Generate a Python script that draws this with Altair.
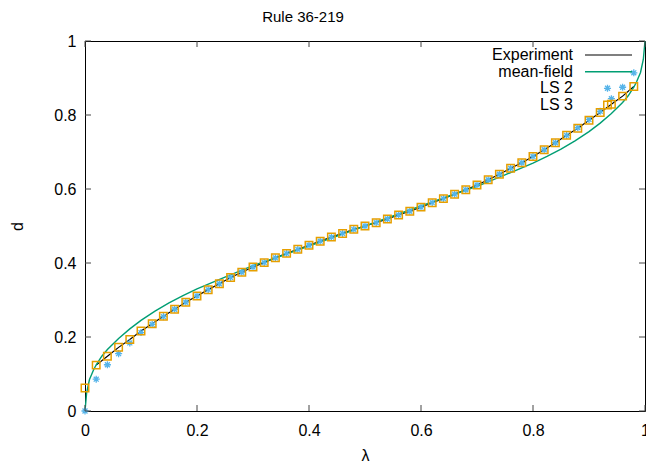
import altair as alt
import pandas as pd

# ---------------- data ----------------
lam = [0.00, 0.02, 0.04, 0.06, 0.08, 0.10, 0.12, 0.14, 0.16, 0.18,
       0.20, 0.22, 0.24, 0.26, 0.28, 0.30, 0.32, 0.34, 0.36, 0.38,
       0.40, 0.42, 0.44, 0.46, 0.48, 0.50, 0.52, 0.54, 0.56, 0.58,
       0.60, 0.62, 0.64, 0.66, 0.68, 0.70, 0.72, 0.74, 0.76, 0.78,
       0.80, 0.82, 0.84, 0.86, 0.88, 0.90, 0.92, 0.94, 0.96, 0.98]

ls3 = [0.062, 0.124, 0.148, 0.172, 0.193, 0.216, 0.236, 0.256, 0.275, 0.294,
       0.311, 0.328, 0.344, 0.361, 0.375, 0.389, 0.401, 0.414, 0.426, 0.437,
       0.448, 0.459, 0.470, 0.480, 0.491, 0.500, 0.509, 0.519, 0.530, 0.540,
       0.551, 0.563, 0.574, 0.586, 0.598, 0.611, 0.625, 0.640, 0.656, 0.671,
       0.688, 0.706, 0.725, 0.745, 0.764, 0.786, 0.807, 0.829, 0.851, 0.877]

ls2 = [0.000, 0.086, 0.125, 0.155, 0.184, 0.212, 0.234, 0.255, 0.275, 0.294,
       0.311, 0.328, 0.344, 0.361, 0.375, 0.389, 0.401, 0.414, 0.426, 0.437,
       0.448, 0.459, 0.470, 0.480, 0.491, 0.500, 0.509, 0.519, 0.530, 0.540,
       0.551, 0.563, 0.574, 0.586, 0.598, 0.611, 0.625, 0.640, 0.656, 0.671,
       0.688, 0.706, 0.725, 0.745, 0.766, 0.788, 0.810, 0.844, 0.875, 0.914]

exp_lam = lam[1:]
exp_d = [0.124, 0.148, 0.172, 0.193, 0.216, 0.236, 0.256, 0.275, 0.294,
         0.311, 0.328, 0.344, 0.361, 0.375, 0.389, 0.401, 0.414, 0.426, 0.437,
         0.448, 0.459, 0.470, 0.480, 0.491, 0.500, 0.509, 0.519, 0.530, 0.540,
         0.551, 0.563, 0.574, 0.586, 0.598, 0.611, 0.625, 0.640, 0.656, 0.671,
         0.688, 0.706, 0.725, 0.745, 0.764, 0.786, 0.807, 0.829, 0.851, 0.877]

mf_lam = [0.0, 0.003, 0.008, 0.015, 0.02, 0.03, 0.04, 0.06, 0.08, 0.10,
          0.125, 0.15, 0.175, 0.20, 0.25, 0.30, 0.35, 0.40, 0.45, 0.50,
          0.55, 0.60, 0.65, 0.70, 0.75, 0.80, 0.825, 0.85, 0.875, 0.90,
          0.92, 0.94, 0.96, 0.97, 0.98, 0.985, 0.992, 0.997, 1.0]
mf_d = [0.0, 0.05, 0.085, 0.11, 0.125, 0.148, 0.166, 0.196, 0.222, 0.245,
        0.270, 0.292, 0.312, 0.330, 0.362, 0.393, 0.419, 0.446, 0.473, 0.500,
        0.527, 0.554, 0.581, 0.607, 0.638, 0.670, 0.688, 0.708, 0.730, 0.755,
        0.778, 0.804, 0.834, 0.852, 0.875, 0.89, 0.915, 0.95, 1.0]

tick_values = [0, 0.2, 0.4, 0.6, 0.8, 1.0]
legend_labels = ["Experiment", "mean-field", "LS 2", "LS 3"]

# ---------------- styling ----------------
W, H = 560, 370
FONT = "Liberation Sans"
C_EXP = "#000000"
C_MF = "#009e73"
C_LS2 = "#56b4e9"
C_LS3 = "#e69f00"
TICK_C = "#444444"
ASTER = "M-1,0L1,0M0,-1L0,1M-0.7,-0.7L0.7,0.7M-0.7,0.7L0.7,-0.7"
SQ_SIZE, AS_SIZE = 56, 50

xscale = alt.Scale(domain=[0, 1], nice=False, zero=False)
yscale = alt.Scale(domain=[0, 1], nice=False, zero=False)

X = alt.X("lam:Q", scale=xscale, title="λ",
          axis=alt.Axis(values=tick_values, format="~g", labelFlush=False,
                        labelPadding=11, titlePadding=9))
Y = alt.Y("d:Q", scale=yscale, title="d",
          axis=alt.Axis(values=tick_values, format="~g", labelPadding=9,
                        titlePadding=28))

df_exp = pd.DataFrame({"lam": exp_lam, "d": exp_d})
df_mf = pd.DataFrame({"lam": mf_lam, "d": mf_d})
df_ls2 = pd.DataFrame({"lam": lam, "d": ls2})
df_ls3 = pd.DataFrame({"lam": lam, "d": ls3})
df_xt = pd.DataFrame({"lam": tick_values})
df_yt = pd.DataFrame({"d": tick_values})

exp_line = alt.Chart(df_exp).mark_line(color=C_EXP, strokeWidth=1.2).encode(x=X, y=Y)
mf_line = alt.Chart(df_mf).mark_line(color=C_MF, strokeWidth=1.4).encode(x=X, y=Y)
ls2_pts = alt.Chart(df_ls2).mark_point(shape=ASTER, filled=False, color=C_LS2,
                                      size=AS_SIZE, strokeWidth=1.3, opacity=1).encode(x=X, y=Y)
ls3_pts = alt.Chart(df_ls3).mark_point(shape="square", filled=False, color=C_LS3,
                                      size=SQ_SIZE, strokeWidth=1.5, opacity=1).encode(x=X, y=Y)

tk = 6
xt_bot = alt.Chart(df_xt).mark_rule(color=TICK_C).encode(x=X, y=alt.value(H), y2=alt.value(H - tk))
xt_top = alt.Chart(df_xt).mark_rule(color=TICK_C).encode(x=X, y=alt.value(0), y2=alt.value(tk))
yt_lft = alt.Chart(df_yt).mark_rule(color=TICK_C).encode(y=Y, x=alt.value(0), x2=alt.value(tk))
yt_rgt = alt.Chart(df_yt).mark_rule(color=TICK_C).encode(y=Y, x=alt.value(W), x2=alt.value(W - tk))

# legend (gnuplot style: text right-aligned, sample to its right)
leg_y = [14, 30.7, 47.3, 64]
leg_layers = []
for lab, yy in zip(legend_labels, leg_y):
    leg_layers.append(
        alt.Chart(pd.DataFrame({"label": [lab]})).mark_text(
            align="right", baseline="middle", font=FONT, fontSize=16, color="black"
        ).encode(x=alt.value(488), y=alt.value(yy), text="label:N")
    )
one = pd.DataFrame({"k": [1]})
leg_layers.append(alt.Chart(one).mark_rule(color=C_EXP, strokeWidth=1.2).encode(
    x=alt.value(500), x2=alt.value(547), y=alt.value(leg_y[0])))
leg_layers.append(alt.Chart(one).mark_rule(color=C_MF, strokeWidth=1.4).encode(
    x=alt.value(500), x2=alt.value(547), y=alt.value(leg_y[1])))
leg_layers.append(alt.Chart(one).mark_point(shape=ASTER, filled=False, color=C_LS2, size=AS_SIZE,
                                            strokeWidth=1.3, opacity=1).encode(
    x=alt.value(522.5), y=alt.value(leg_y[2])))
leg_layers.append(alt.Chart(one).mark_point(shape="square", filled=False, color=C_LS3, size=SQ_SIZE,
                                            strokeWidth=1.5, opacity=1).encode(
    x=alt.value(522.5), y=alt.value(leg_y[3])))

chart = alt.layer(
    exp_line, mf_line, ls2_pts, ls3_pts,
    xt_bot, xt_top, yt_lft, yt_rgt,
    *leg_layers,
).properties(
    width=W, height=H,
    autosize=alt.AutoSizeParams(type="none"),
    padding={"left": 77, "top": 33, "right": 1, "bottom": 54},
    title=alt.TitleParams("Rule 36-219", font=FONT, fontSize=15, fontWeight="normal",
                          color="black", anchor="middle", dx=-62, offset=8),
).configure_view(
    stroke="black", strokeWidth=1
).configure_axis(
    grid=False, domain=False, ticks=False,
    labelFont=FONT, labelFontSize=16, labelColor="black",
    titleFont=FONT, titleFontSize=16, titleFontWeight="normal", titleColor="black",
)

chart.save("out.html", embed_options={"renderer": "svg", "actions": False})
